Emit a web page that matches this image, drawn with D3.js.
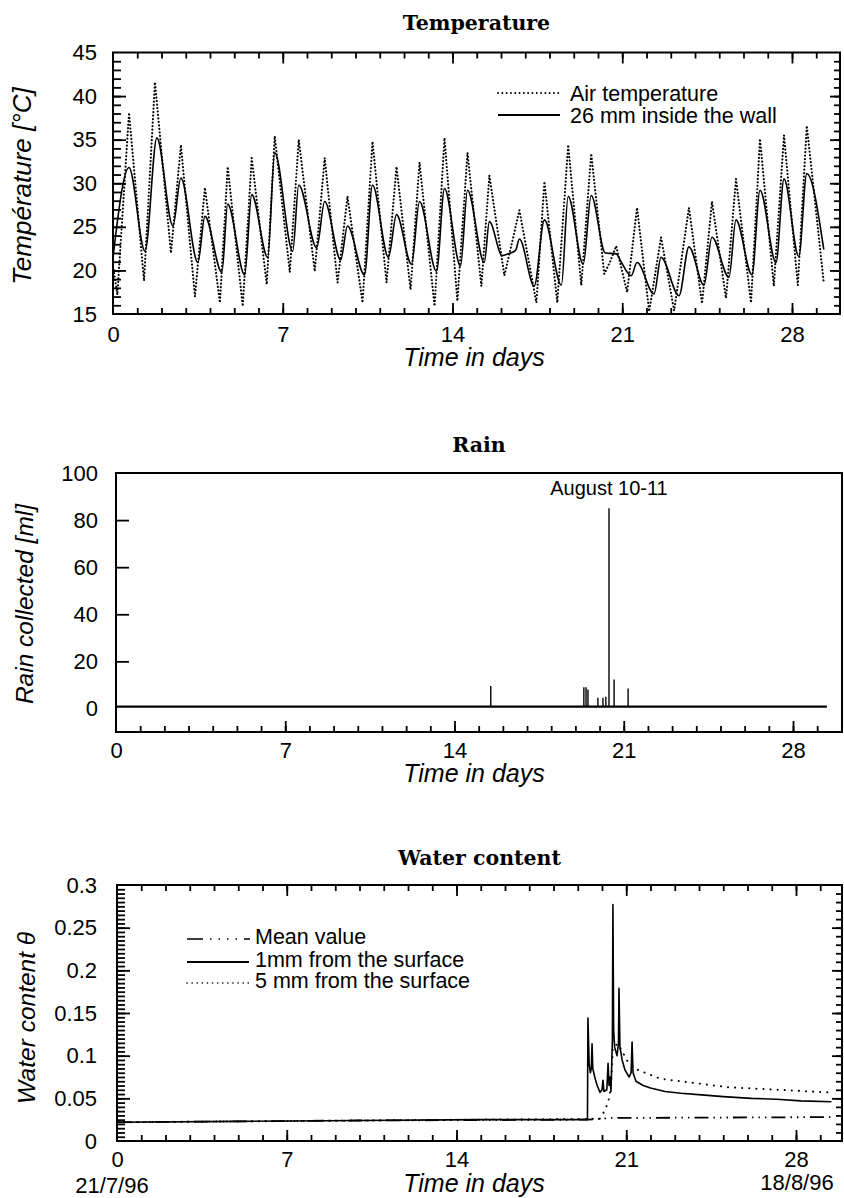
<!DOCTYPE html>
<html>
<head>
<meta charset="utf-8">
<script src="https://cdn.jsdelivr.net/npm/d3@7"></script>
<style>
  body { margin: 0; background: #fff; }
  svg { display: block; }
</style>
</head>
<body>
<svg id="fig" width="844" height="1198"></svg>
<script>
// ---- data --------------------------------------------------------------
const dayTicks = [0, 7, 14, 21, 28];
const tempTicks = [15, 20, 25, 30, 35, 40, 45];
const rainTicks = [0, 20, 40, 60, 80, 100];
const waterTicks = [0, 0.05, 0.1, 0.15, 0.2, 0.25, 0.3];

// [day, °C] air temperature
const airTemp = [
  [0, 20.5], [0.18, 17.2], [0.66, 38.1], [1.28, 18.8], [1.73, 41.6], [2.39, 22.0],
  [2.80, 34.4], [3.38, 17.0], [3.79, 29.5], [4.41, 16.3], [4.73, 31.9], [5.35, 15.9],
  [5.72, 32.9], [6.34, 18.4], [6.67, 35.4], [7.29, 19.8], [7.66, 35.0], [8.32, 19.9],
  [8.73, 32.9], [9.26, 18.6], [9.67, 28.5], [10.29, 16.3], [10.70, 34.8], [11.28, 18.6],
  [11.69, 31.9], [12.27, 17.8], [12.64, 32.4], [13.26, 15.9], [13.67, 35.2], [14.20, 16.5],
  [14.62, 33.5], [15.19, 18.2], [15.52, 30.9], [16.14, 19.4], [16.76, 26.9], [17.46, 16.3],
  [17.79, 30.2], [18.32, 16.3], [18.77, 34.4], [19.31, 18.3], [19.72, 33.4], [20.26, 19.6],
  [20.5, 21.0], [20.75, 22.8], [21.20, 17.5], [21.61, 27.2], [22.11, 15.3], [22.60, 23.8],
  [23.14, 15.4], [23.75, 27.2], [24.29, 16.2], [24.70, 27.9], [25.28, 16.8], [25.69, 30.5],
  [26.31, 16.3], [26.68, 35.1], [27.25, 18.2], [27.67, 35.5], [28.24, 18.3], [28.61, 36.6],
  [29.31, 18.6]
];

// [day, °C] 26 mm inside the wall
const wallTemp = [
  [0, 21.5], [0.66, 31.8], [1.32, 22.2], [1.81, 35.2], [2.47, 25.1], [2.80, 30.6],
  [3.50, 20.9], [3.79, 26.2], [4.49, 19.8], [4.73, 27.6], [5.43, 19.5], [5.72, 28.7],
  [6.38, 21.5], [6.67, 33.5], [7.41, 22.2], [7.66, 29.8], [8.40, 22.6], [8.73, 27.9],
  [9.39, 21.2], [9.67, 25.1], [10.37, 19.5], [10.70, 29.8], [11.36, 21.5], [11.69, 26.4],
  [12.31, 20.7], [12.64, 27.9], [13.34, 19.9], [13.67, 29.4], [14.33, 20.5], [14.62, 29.2],
  [15.31, 20.9], [15.52, 25.6], [16.05, 21.7], [16.3, 21.9], [16.6, 22.3], [16.76, 23.6],
  [17.37, 18.2], [17.79, 25.8], [18.49, 18.3], [18.77, 28.5], [19.39, 20.7], [19.72, 28.6],
  [20.3, 22.0], [20.75, 21.9], [20.95, 21.0], [21.37, 19.4], [21.61, 20.9], [22.31, 17.3],
  [22.60, 21.5], [23.34, 17.1], [23.75, 22.7], [24.37, 18.3], [24.70, 23.8], [25.40, 19.2],
  [25.69, 25.8], [26.35, 19.5], [26.68, 29.2], [27.34, 20.9], [27.67, 30.5], [28.28, 21.6],
  [28.61, 31.1], [29.31, 22.4]
];

// rain collector: background level and individual events [ml]
const rainBaseline = [[0, 0.8], [29.4, 0.8]];
const rainDays   = [15.50, 19.35, 19.44, 19.52, 19.93, 20.14, 20.26, 20.39, 20.60, 21.18];
const rainAmount = [9.5,   9.0,   9.0,   8.0,   4.5,   4.5,   5.0,   85,    12.3,  8.5];

// [day, θ] water content
const waterMean = [[0, 0.022], [10, 0.024], [19.4, 0.025], [20.4, 0.027], [29.5, 0.028]];
const water1mm = [
  [0, 0.022], [5, 0.023], [10, 0.024], [15, 0.025], [19.40, 0.025], [19.42, 0.144],
  [19.47, 0.09], [19.52, 0.08], [19.56, 0.085], [19.59, 0.114], [19.62, 0.085], [19.7, 0.075],
  [19.8, 0.065], [19.92, 0.057], [20.0, 0.06], [20.04, 0.071], [20.08, 0.058], [20.2, 0.06],
  [20.25, 0.091], [20.29, 0.065], [20.33, 0.075], [20.37, 0.058], [20.43, 0.12], [20.45, 0.277],
  [20.48, 0.13], [20.52, 0.11], [20.62, 0.1], [20.68, 0.115], [20.7, 0.179], [20.74, 0.11],
  [20.83, 0.095], [20.95, 0.083], [21.12, 0.075], [21.2, 0.08], [21.24, 0.116], [21.28, 0.08],
  [21.4, 0.07], [21.7, 0.065], [22.0, 0.062], [22.6, 0.058], [23.26, 0.056], [24.1, 0.054],
  [25, 0.052], [26.16, 0.05], [27.2, 0.049], [28.2, 0.047], [29.46, 0.046]
];
const water5mm = [
  [0, 0.022], [10, 0.024], [19.9, 0.026], [20.1, 0.035], [20.25, 0.045], [20.37, 0.063],
  [20.45, 0.11], [20.66, 0.114], [21.08, 0.092], [21.5, 0.083], [22.4, 0.073], [23.8, 0.068],
  [25.2, 0.063], [27.3, 0.06], [29.3, 0.057]
];

// ---- drawing -----------------------------------------------------------
const SANS = "'Liberation Sans', Arial, Helvetica, sans-serif";
const SERIF = "'DejaVu Serif', 'Liberation Serif', serif";
const svg = d3.select("#fig");
const tickLayer = [];   // inward tick axes of all frames, drawn last

// tick labels from a d3 axis
function addLabels(g, gen, tx, ty) {
  const a = g.append("g").attr("transform", `translate(${tx},${ty})`).call(gen);
  a.select(".domain").remove();
  a.selectAll("line").remove();
  a.attr("font-family", SANS).attr("font-size", 22);
  a.selectAll("text").attr("fill", "#000");
  return a;
}

// queue an inward-pointing tick axis (no labels) for one side of a frame
function queueAxis(gen, tx, ty) {
  tickLayer.push({ gen, tx, ty });
}

function panel(cfg) {
  const x = d3.scaleLinear().domain([0, 28]).range([cfg.x0, cfg.x28]);
  const y = d3.scaleLinear().domain(cfg.yDomain).range([cfg.bottom, cfg.top]);
  const g = svg.append("g");
  const xEnd = x.invert(cfg.right);
  const minorDays = d3.range(1, Math.ceil(xEnd));

  // frame
  g.append("path")
    .attr("d", `M${cfg.x0} ${cfg.top}L${cfg.right} ${cfg.top}L${cfg.right} ${cfg.bottom}L${cfg.x0} ${cfg.bottom}Z`)
    .attr("fill", "none").attr("stroke", "#000").attr("stroke-width", 2);

  queueAxis(d3.axisBottom(x).tickValues(minorDays).tickSize(-6).tickFormat(""), 0, cfg.bottom);
  queueAxis(d3.axisBottom(x).tickValues(dayTicks.slice(1)).tickSize(-11).tickFormat(""), 0, cfg.bottom);
  if (cfg.topTicks) {
    queueAxis(d3.axisTop(x).tickValues(minorDays).tickSize(-6).tickFormat(""), 0, cfg.top);
    queueAxis(d3.axisTop(x).tickValues(dayTicks.slice(1)).tickSize(-11).tickFormat(""), 0, cfg.top);
  }
  if (cfg.yMinor) queueAxis(d3.axisLeft(y).tickValues(cfg.yMinor).tickSize(-8).tickFormat(""), cfg.x0, 0);
  queueAxis(d3.axisLeft(y).tickValues(cfg.yMarks).tickSize(-13).tickFormat(""), cfg.x0, 0);
  if (cfg.rightMinor) {
    queueAxis(d3.axisRight(y).tickValues(cfg.rightMinor).tickSize(-6).tickFormat(""), cfg.right, 0);
    queueAxis(d3.axisRight(y).tickValues(cfg.yMarks).tickSize(-10).tickFormat(""), cfg.right, 0);
  }

  // tick labels
  addLabels(g, d3.axisBottom(x).tickValues(dayTicks).tickSize(0).tickPadding(cfg.xPad)
    .tickFormat(d3.format("d")), 0, cfg.bottom);
  addLabels(g, d3.axisLeft(y).tickValues(cfg.yTicks).tickSize(0).tickPadding(cfg.yPad)
    .tickFormat(cfg.yFormat), cfg.x0, 0);

  // title
  g.append("text")
    .attr("x", (cfg.x0 + cfg.right) / 2).attr("y", cfg.titleY)
    .attr("text-anchor", "middle")
    .attr("font-family", SERIF).attr("font-weight", "bold").attr("font-size", 20.5)
    .text(cfg.title);
  // axis titles
  g.append("text")
    .attr("x", 474).attr("y", cfg.xLabelY)
    .attr("text-anchor", "middle")
    .attr("font-family", SANS).attr("font-style", "italic").attr("font-size", 25)
    .text("Time in days");
  g.append("text")
    .attr("transform", `translate(${cfg.yLabelX},${cfg.yLabelCY}) rotate(-90)`)
    .attr("text-anchor", "middle")
    .attr("font-family", SANS).attr("font-style", "italic").attr("font-size", cfg.yLabelSize)
    .text(cfg.yLabel);

  return { g, x, y };
}

const lineOf = (x, y) => d3.line().x(d => x(d[0])).y(d => y(d[1]));

// ---------------- Temperature ----------------
{
  const { g, x, y } = panel({
    x0: 113, x28: 792, right: 840, top: 52.5, bottom: 314,
    yDomain: [15, 45], yTicks: tempTicks, yMarks: tempTicks.slice(1, -1),
    yMinor: d3.range(16, 45, 1), rightMinor: d3.range(16, 45, 1), yFormat: d3.format("d"),
    topTicks: true, xPad: 12, yPad: 16,
    title: "Temperature", titleY: 30, xLabelY: 366,
    yLabel: "Température [°C]", yLabelX: 31, yLabelCY: 186, yLabelSize: 26
  });
  g.append("path").datum(airTemp).attr("d", lineOf(x, y))
    .attr("fill", "none").attr("stroke", "#000").attr("stroke-width", 2.1)
    .attr("stroke-linecap", "round").attr("stroke-dasharray", "0.1,3.4");
  g.append("path").datum(wallTemp).attr("d", lineOf(x, y).curve(d3.curveMonotoneX))
    .attr("fill", "none").attr("stroke", "#000").attr("stroke-width", 1.6)
    .attr("stroke-linejoin", "round");

  // legend
  const lg = g.append("g").attr("font-family", SANS).attr("font-size", 21.5);
  lg.append("line").attr("x1", 498).attr("x2", 560).attr("y1", 93).attr("y2", 93)
    .attr("stroke", "#000").attr("stroke-width", 1.8)
    .attr("stroke-linecap", "round").attr("stroke-dasharray", "0.1,4.2");
  lg.append("text").attr("x", 570).attr("y", 101).text("Air temperature");
  lg.append("line").attr("x1", 498).attr("x2", 560).attr("y1", 115).attr("y2", 115)
    .attr("stroke", "#000").attr("stroke-width", 1.8);
  lg.append("text").attr("x", 570).attr("y", 123).text("26 mm inside the wall");
}

// ---------------- Rain ----------------
{
  const { g, x, y } = panel({
    x0: 116, x28: 793, right: 842, top: 473, bottom: 732,
    yDomain: [-10, 100], yTicks: rainTicks, yMarks: rainTicks.slice(1, -1),
    yMinor: null, rightMinor: null,
    yFormat: d3.format("d"), topTicks: false, xPad: 10, yPad: 18,
    title: "Rain", titleY: 452, xLabelY: 782,
    yLabel: "Rain collected [ml]", yLabelX: 33, yLabelCY: 604, yLabelSize: 24.5
  });
  const base = rainBaseline[0][1];
  g.append("path").datum(rainBaseline).attr("d", lineOf(x, y))
    .attr("fill", "none").attr("stroke", "#000").attr("stroke-width", 2.2);
  g.append("g").selectAll("line").data(rainDays).join("line")
    .attr("x1", d => x(d)).attr("x2", d => x(d))
    .attr("y1", y(base)).attr("y2", (d, i) => y(rainAmount[i]))
    .attr("stroke", "#000").attr("stroke-width", 1.4);
  const peak = d3.maxIndex(rainAmount);
  g.append("text")
    .attr("x", x(rainDays[peak])).attr("y", 495)
    .attr("text-anchor", "middle")
    .attr("font-family", SANS).attr("font-size", 20)
    .text("August 10-11");
}

// ---------------- Water content ----------------
{
  const { g, x, y } = panel({
    x0: 117, x28: 796, right: 842, top: 885, bottom: 1141,
    yDomain: [0, 0.3], yTicks: waterTicks, yMarks: waterTicks.slice(1, -1),
    yMinor: d3.range(0.005, 0.3, 0.005),
    rightMinor: d3.range(0.01, 0.3, 0.01), yFormat: d3.format("~g"),
    topTicks: true, xPad: 10, yPad: 20,
    title: "Water content", titleY: 865, xLabelY: 1192,
    yLabel: "Water content θ", yLabelX: 35, yLabelCY: 1018, yLabelSize: 24.5
  });
  const line = lineOf(x, y);
  g.append("path").datum(waterMean).attr("d", line)
    .attr("fill", "none").attr("stroke", "#000").attr("stroke-width", 1.8)
    .attr("stroke-dasharray", "14,5,1.5,5,1.5,5,1.5,5");
  g.append("path").datum(water5mm).attr("d", line)
    .attr("fill", "none").attr("stroke", "#000").attr("stroke-width", 2)
    .attr("stroke-linecap", "round").attr("stroke-dasharray", "0.1,7");
  g.append("path").datum(water1mm).attr("d", line)
    .attr("fill", "none").attr("stroke", "#000").attr("stroke-width", 1.6)
    .attr("stroke-linejoin", "round");

  // start and end dates
  g.append("text").attr("x", x(0) - 5).attr("y", 1193).attr("text-anchor", "middle")
    .attr("font-family", SANS).attr("font-size", 22).text("21/7/96");
  g.append("text").attr("x", x(28) + 1).attr("y", 1190).attr("text-anchor", "middle")
    .attr("font-family", SANS).attr("font-size", 22).text("18/8/96");

  // legend
  const lg = g.append("g").attr("font-family", SANS).attr("font-size", 21.5);
  lg.append("line").attr("x1", 187).attr("x2", 250).attr("y1", 939).attr("y2", 939)
    .attr("stroke", "#000").attr("stroke-width", 1.6)
    .attr("stroke-dasharray", "16,7,1.5,7,1.5,7,1.5,7,1.5,7");
  lg.append("text").attr("x", 255).attr("y", 944).text("Mean value");
  lg.append("line").attr("x1", 187).attr("x2", 249).attr("y1", 962).attr("y2", 962)
    .attr("stroke", "#000").attr("stroke-width", 1.8);
  lg.append("text").attr("x", 255).attr("y", 967).text("1mm from the surface");
  lg.append("line").attr("x1", 187).attr("x2", 249).attr("y1", 983).attr("y2", 983)
    .attr("stroke", "#000").attr("stroke-width", 1.6)
    .attr("stroke-linecap", "round").attr("stroke-dasharray", "0.1,5");
  lg.append("text").attr("x", 255).attr("y", 988).text("5 mm from the surface");
}

// ---------------- inward tick marks of all frames ----------------
const ticksG = svg.append("g").attr("class", "frame-ticks");
tickLayer.forEach(t => {
  const a = ticksG.append("g").attr("transform", `translate(${t.tx},${t.ty})`).call(t.gen);
  a.select(".domain").remove();
  a.selectAll("line").attr("stroke", "#000").attr("stroke-width", 1.8);
});
</script>
</body>
</html>
